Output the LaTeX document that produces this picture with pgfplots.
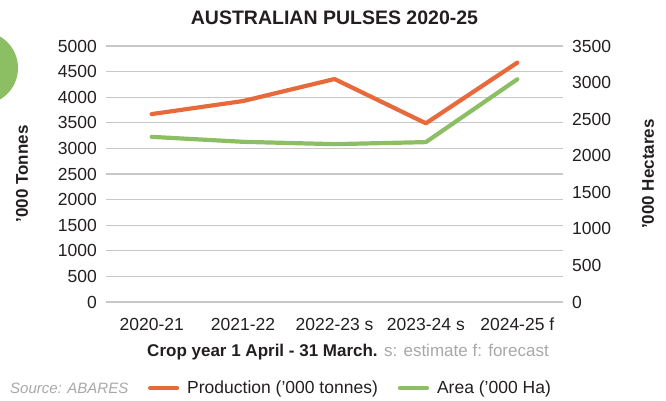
\documentclass[border=0pt]{standalone}
\usepackage{fontspec}
\setmainfont{Liberation Sans}
\usepackage{pgfplots}
\pgfplotsset{compat=1.18}
\definecolor{prod}{HTML}{E8693A}
\definecolor{areac}{HTML}{8CBF64}
\definecolor{txt}{HTML}{231F20}
\definecolor{gridc}{HTML}{C8C8C8}
\definecolor{note}{HTML}{A8A8A8}
\pgfplotsset{
  common/.style={
    at={(106bp,99bp)}, anchor=south west, scale only axis,
    width=457bp, height=256bp,
    xmin=-0.5, xmax=4.5, ymin=0,
    axis line style={draw=none}, major tick length=0pt,
    tick label style={font=\fontsize{17.5bp}{20bp}\selectfont, text=txt},
    /pgf/number format/assume math mode=true,
    /pgf/number format/set thousands separator={},
    label style={font=\bfseries\fontsize{17bp}{20bp}\selectfont, text=txt},
  }
}
\begin{document}
\begin{tikzpicture}
\path[use as bounding box] (0,0) rectangle (666bp,401bp);
\fill[areac] (-18.6bp,333bp) circle (36.6bp);
\begin{axis}[common,
  ymax=5000,
  xtick={0,1,2,3,4},
  xticklabels={2020-21,2021-22,2022-23 s,2023-24 s,2024-25 f},
  ytick={0,500,...,5000},
  ymajorgrids, grid style={gridc, line width=1.3bp},
  yticklabel style={anchor=east, inner sep=0pt, xshift=-9bp},
  xticklabel style={anchor=north, inner sep=0pt, yshift=-16bp, text height=12.6bp},
  title={AUSTRALIAN PULSES 2020-25},
  title style={font=\bfseries\fontsize{19.5bp}{22bp}\selectfont, text=txt, at={(axis description cs:0.5,1)}, anchor=center, yshift=22bp},
  ylabel={’000 Tonnes},
  ylabel style={at={(axis description cs:-0.1838,0.5)}, anchor=center},
  xlabel={Crop year 1 April - 31 March. {\mdseries\color{note} s: estimate f: forecast}},
  xlabel style={at={(axis description cs:0.5,0)}, anchor=center, yshift=-50bp, xshift=13.5bp},
]
\addplot[prod, line width=4.2bp, line cap=round, line join=round] coordinates {
 (0,3670) (1,3925) (2,4355) (3,3490) (4,4675)};
\end{axis}
\begin{axis}[common,
  ymax=3500,
  axis x line=none, axis y line*=right,
  ytick={0,500,...,3500},
  yticklabel style={anchor=west, inner sep=0pt, xshift=9bp},
  ylabel={’000 Hectares},
  ylabel style={at={(axis description cs:1.186,0.5)}, anchor=center},
  legend columns=2,
  legend image code/.code={\draw[#1, line width=4.2bp, line cap=round] (0bp,0bp) -- (27bp,0bp);},
  legend style={at={(axis description cs:0.0919,-0.3359)}, anchor=west, draw=none, fill=none,
    inner sep=0pt, outer sep=0pt, font=\fontsize{17.5bp}{20bp}\selectfont, text=txt,
    nodes={inner sep=0pt},
    /tikz/every odd column/.append style={column sep=8bp},
    /tikz/every even column/.append style={column sep=20bp}},
]
\addlegendimage{prod}
\addlegendentry{Production (’000 tonnes)}
\addplot[areac, line width=4.2bp, line cap=round, line join=round] coordinates {
 (0,2258) (1,2190) (2,2158) (3,2186) (4,3045)};
\addlegendentry{Area (’000 Ha)}
\end{axis}
\node[anchor=west, inner sep=0pt, text=note, font=\itshape\fontsize{15bp}{18bp}\selectfont] at (10bp,13bp) {Source: ABARES};
\end{tikzpicture}
\end{document}
